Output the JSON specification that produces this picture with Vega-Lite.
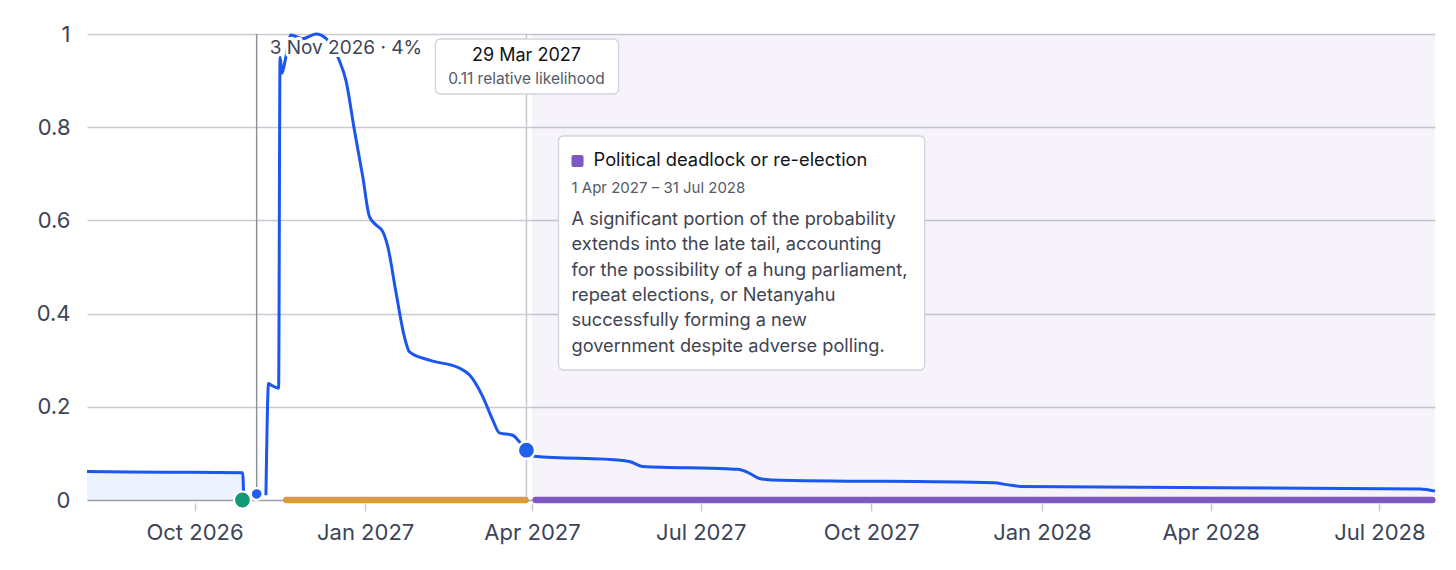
{
  "$schema": "https://vega.github.io/schema/vega-lite/v6.json",
  "description": "Relative likelihood of the timing of the next Israeli election, with phases and a hover tooltip.",
  "width": 1348,
  "height": 466,
  "autosize": "none",
  "padding": {"left": 87, "top": 34, "right": 21, "bottom": 70},
  "background": "white",
  "config": {
    "view": {"stroke": null},
    "font": "Inter",
    "axis": {"labelFont": "Inter", "labelFontSize": 22, "labelColor": "#3c4458", "title": null}
  },
  "datasets": {
    "likelihood": [
      {"date": "2026-08-04T00:00", "value": 0.061, "segment": "a"},
      {"date": "2026-09-15T00:00", "value": 0.0597, "segment": "a"},
      {"date": "2026-10-26T23:00", "value": 0.0586, "segment": "a"},
      {"date": "2026-10-27T12:00", "value": 0.004, "segment": "a"},
      {"date": "2026-11-08T12:00", "value": 0.01, "segment": "b"},
      {"date": "2026-11-09T22:00", "value": 0.25, "segment": "b"},
      {"date": "2026-11-12T00:00", "value": 0.245, "segment": "b"},
      {"date": "2026-11-15T08:00", "value": 0.24, "segment": "b"},
      {"date": "2026-11-16T03:00", "value": 0.95, "segment": "b"},
      {"date": "2026-11-17T05:00", "value": 0.916, "segment": "b"},
      {"date": "2026-11-18T22:00", "value": 0.944, "segment": "b"},
      {"date": "2026-11-22T00:00", "value": 0.998, "segment": "b"},
      {"date": "2026-11-28T08:00", "value": 0.99, "segment": "b"},
      {"date": "2026-12-05T12:00", "value": 1.0, "segment": "b"},
      {"date": "2026-12-11T00:00", "value": 0.99, "segment": "b"},
      {"date": "2026-12-18T00:00", "value": 0.944, "segment": "b"},
      {"date": "2026-12-21T16:00", "value": 0.9, "segment": "b"},
      {"date": "2026-12-26T05:00", "value": 0.794, "segment": "b"},
      {"date": "2026-12-30T17:00", "value": 0.694, "segment": "b"},
      {"date": "2027-01-03T08:00", "value": 0.608, "segment": "b"},
      {"date": "2027-01-06T22:00", "value": 0.59, "segment": "b"},
      {"date": "2027-01-10T12:00", "value": 0.576, "segment": "b"},
      {"date": "2027-01-13T05:00", "value": 0.544, "segment": "b"},
      {"date": "2027-01-17T17:00", "value": 0.444, "segment": "b"},
      {"date": "2027-01-22T05:00", "value": 0.35, "segment": "b"},
      {"date": "2027-01-24T22:00", "value": 0.318, "segment": "b"},
      {"date": "2027-02-04T17:00", "value": 0.3, "segment": "b"},
      {"date": "2027-02-20T22:00", "value": 0.283, "segment": "b"},
      {"date": "2027-02-26T08:00", "value": 0.268, "segment": "b"},
      {"date": "2027-03-05T10:00", "value": 0.222, "segment": "b"},
      {"date": "2027-03-10T19:00", "value": 0.172, "segment": "b"},
      {"date": "2027-03-14T10:00", "value": 0.144, "segment": "b"},
      {"date": "2027-03-21T14:00", "value": 0.139, "segment": "b"},
      {"date": "2027-03-25T05:00", "value": 0.125, "segment": "b"},
      {"date": "2027-03-29T00:00", "value": 0.107, "segment": "b"},
      {"date": "2027-04-02T08:00", "value": 0.094, "segment": "b"},
      {"date": "2027-05-20T00:00", "value": 0.085, "segment": "b"},
      {"date": "2027-05-24T00:00", "value": 0.082, "segment": "b"},
      {"date": "2027-05-30T14:00", "value": 0.072, "segment": "b"},
      {"date": "2027-07-15T00:00", "value": 0.067, "segment": "b"},
      {"date": "2027-07-20T20:00", "value": 0.066, "segment": "b"},
      {"date": "2027-07-26T00:00", "value": 0.06, "segment": "b"},
      {"date": "2027-08-01T17:00", "value": 0.046, "segment": "b"},
      {"date": "2027-08-08T00:00", "value": 0.043, "segment": "b"},
      {"date": "2027-12-06T00:00", "value": 0.037, "segment": "b"},
      {"date": "2027-12-13T00:00", "value": 0.033, "segment": "b"},
      {"date": "2027-12-20T14:00", "value": 0.029, "segment": "b"},
      {"date": "2028-07-22T22:00", "value": 0.0236, "segment": "b"},
      {"date": "2028-07-31T00:00", "value": 0.019, "segment": "b"}
    ],
    "phases": [
      {"phase": "Early election", "start": "2026-11-19T12:00", "end": "2027-03-28T12:00"},
      {"phase": "Political deadlock or re-election", "start": "2027-04-03T00:00", "end": "2028-07-29T12:00"}
    ],
    "markers": [
      {"date": "2026-10-26T20:00", "value": 0, "kind": "onset"},
      {"date": "2026-11-03T12:00", "value": 0.013, "kind": "event"},
      {"date": "2027-03-29T00:00", "value": 0.107, "kind": "hover"}
    ],
    "note": [{}]
  },
  "encoding": {
    "x": {
      "type": "temporal",
      "scale": {"domain": [{"year": 2026, "month": 8, "date": 4}, {"year": 2028, "month": 7, "date": 31}]},
      "axis": {
        "values": [
          {"year": 2026, "month": 10, "date": 1},
          {"year": 2027, "month": 1, "date": 1},
          {"year": 2027, "month": 4, "date": 1},
          {"year": 2027, "month": 7, "date": 1},
          {"year": 2027, "month": 10, "date": 1},
          {"year": 2028, "month": 1, "date": 1},
          {"year": 2028, "month": 4, "date": 1},
          {"year": 2028, "month": 7, "date": 1}
        ],
        "format": "%b %Y",
        "grid": false,
        "domain": false,
        "ticks": true,
        "tickColor": "#c9cad3",
        "tickWidth": 1.5,
        "tickSize": 8,
        "offset": 3,
        "labelPadding": 11
      }
    },
    "y": {
      "type": "quantitative",
      "scale": {"domain": [0, 1], "nice": false},
      "axis": {
        "values": [0, 0.2, 0.4, 0.6, 0.8, 1],
        "format": "~g",
        "domain": false,
        "ticks": false,
        "labelPadding": 17,
        "grid": true,
        "gridWidth": 1.5,
        "gridColor": {"condition": {"test": "datum.value === 0", "value": "#9c9ea8"}, "value": "#c9cad3"}
      }
    }
  },
  "layer": [
    {
      "data": {"name": "phases"},
      "transform": [{"filter": "datum.phase === 'Political deadlock or re-election'"}],
      "mark": {"type": "rect", "color": "#7e57c2", "opacity": 0.07},
      "encoding": {
        "x": {"datum": {"year": 2027, "month": 3, "date": 31, "hours": 22}, "type": "temporal"},
        "x2": {"datum": {"year": 2028, "month": 7, "date": 31}},
        "y": {"datum": 0},
        "y2": {"datum": 1}
      }
    },
    {
      "data": {"name": "likelihood"},
      "transform": [{"filter": "datum.segment === 'a'"}],
      "mark": {"type": "area", "color": "#1b56ee", "opacity": 0.075, "interpolate": "monotone"},
      "encoding": {
        "x": {"field": "date", "type": "temporal"},
        "y": {"field": "value", "type": "quantitative"}
      }
    },
    {
      "data": {"name": "markers"},
      "transform": [{"filter": "datum.kind !== 'onset'"}],
      "mark": {"type": "rule", "strokeWidth": 1.5},
      "encoding": {
        "x": {"field": "date", "type": "temporal"},
        "y": {"datum": 1},
        "y2": {"datum": 0},
        "color": {"condition": {"test": "datum.kind === 'event'", "value": "#8e919b"}, "value": "#c6c7d0"}
      }
    },
    {
      "data": {"name": "phases"},
      "mark": {"type": "rule", "strokeWidth": 6.5, "strokeCap": "round"},
      "encoding": {
        "x": {"field": "start", "type": "temporal"},
        "x2": {"field": "end"},
        "y": {"datum": 0},
        "color": {"condition": {"test": "datum.phase === 'Early election'", "value": "#db9a3c"}, "value": "#7e57c2"}
      }
    },
    {
      "data": {"name": "likelihood"},
      "mark": {"type": "line", "color": "#1b56ee", "strokeWidth": 3, "interpolate": "monotone", "clip": false},
      "encoding": {
        "x": {"field": "date", "type": "temporal"},
        "y": {"field": "value", "type": "quantitative"},
        "detail": {"field": "segment"}
      }
    },
    {
      "data": {"name": "markers"},
      "mark": {"type": "point", "filled": true, "opacity": 1, "stroke": "white", "strokeWidth": 2.2},
      "encoding": {
        "x": {"field": "date", "type": "temporal"},
        "y": {"field": "value", "type": "quantitative"},
        "fill": {"condition": {"test": "datum.kind === 'onset'", "value": "#139a78"}, "value": "#2160ec"},
        "size": {"condition": {"test": "datum.kind === 'event'", "value": 140}, "value": 290}
      }
    },
    {
      "data": {"name": "note"},
      "mark": {"type": "text", "align": "left", "baseline": "middle", "dx": 13, "fontSize": 19, "color": "white", "stroke": "white", "strokeWidth": 6, "strokeJoin": "round"},
      "encoding": {
        "x": {"datum": {"year": 2026, "month": 11, "date": 3, "hours": 12}, "type": "temporal"},
        "y": {"datum": 0.97},
        "text": {"value": "3 Nov 2026 · 4%"}
      }
    },
    {
      "data": {"name": "note"},
      "mark": {"type": "text", "align": "left", "baseline": "middle", "dx": 13, "fontSize": 19, "color": "#3d4556"},
      "encoding": {
        "x": {"datum": {"year": 2026, "month": 11, "date": 3, "hours": 12}, "type": "temporal"},
        "y": {"datum": 0.97},
        "text": {"value": "3 Nov 2026 · 4%"}
      }
    },
    {
      "data": {"name": "note"},
      "mark": {"type": "rect", "fill": "white", "stroke": "#d2d3da", "strokeWidth": 1.3, "cornerRadius": 5},
      "encoding": {
        "x": {"datum": {"year": 2027, "month": 2, "date": 7, "hours": 22}, "type": "temporal"},
        "x2": {"datum": {"year": 2027, "month": 5, "date": 17, "hours": 17}},
        "y": {"datum": 0.9893},
        "y2": {"datum": 0.8712}
      }
    },
    {
      "data": {"name": "note"},
      "mark": {"type": "text", "align": "center", "baseline": "middle", "fontSize": 18, "color": "#111318"},
      "encoding": {
        "x": {"datum": {"year": 2027, "month": 3, "date": 29}, "type": "temporal"},
        "y": {"datum": 0.9528},
        "text": {"value": "29 Mar 2027"}
      }
    },
    {
      "data": {"name": "note"},
      "mark": {"type": "text", "align": "center", "baseline": "middle", "fontSize": 15.5, "color": "#555a66"},
      "encoding": {
        "x": {"datum": {"year": 2027, "month": 3, "date": 29}, "type": "temporal"},
        "y": {"datum": 0.9034},
        "text": {"value": "0.11 relative likelihood"}
      }
    },
    {
      "data": {"name": "note"},
      "mark": {"type": "rect", "fill": "white", "stroke": "#d2d3da", "strokeWidth": 1.3, "cornerRadius": 5},
      "encoding": {
        "x": {"datum": {"year": 2027, "month": 4, "date": 15, "hours": 7}, "type": "temporal"},
        "x2": {"datum": {"year": 2027, "month": 10, "date": 29, "hours": 19}},
        "y": {"datum": 0.7811},
        "y2": {"datum": 0.279}
      }
    },
    {
      "data": {"name": "note"},
      "mark": {"type": "rect", "fill": "#7e57c2", "cornerRadius": 2},
      "encoding": {
        "x": {"datum": {"year": 2027, "month": 4, "date": 22, "hours": 7}, "type": "temporal"},
        "x2": {"datum": {"year": 2027, "month": 4, "date": 28, "hours": 19}},
        "y": {"datum": 0.7403},
        "y2": {"datum": 0.7146}
      }
    },
    {
      "data": {"name": "note"},
      "mark": {"type": "text", "align": "left", "baseline": "middle", "fontSize": 18.3, "color": "#111318"},
      "encoding": {
        "x": {"datum": {"year": 2027, "month": 5, "date": 4, "hours": 5}, "type": "temporal"},
        "y": {"datum": 0.7275},
        "text": {"value": "Political deadlock or re-election"}
      }
    },
    {
      "data": {"name": "note"},
      "mark": {"type": "text", "align": "left", "baseline": "middle", "fontSize": 15, "color": "#555a66"},
      "encoding": {
        "x": {"datum": {"year": 2027, "month": 4, "date": 22, "hours": 7}, "type": "temporal"},
        "y": {"datum": 0.6695},
        "text": {"value": "1 Apr 2027 – 31 Jul 2028"}
      }
    },
    {
      "data": {"name": "note"},
      "mark": {"type": "text", "align": "left", "baseline": "alphabetic", "fontSize": 18.2, "lineHeight": 25.3, "color": "#3f4451"},
      "encoding": {
        "x": {"datum": {"year": 2027, "month": 4, "date": 22, "hours": 7}, "type": "temporal"},
        "y": {"datum": 0.5897},
        "text": {"value": [
          "A significant portion of the probability",
          "extends into the late tail, accounting",
          "for the possibility of a hung parliament,",
          "repeat elections, or Netanyahu",
          "successfully forming a new",
          "government despite adverse polling."
        ]}
      }
    }
  ]
}
